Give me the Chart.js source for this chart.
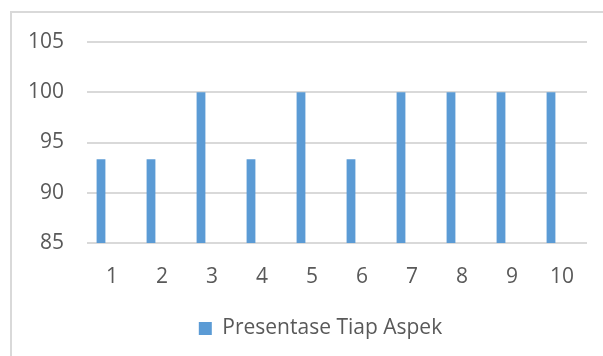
<!DOCTYPE html>
<html>
<head>
<meta charset="utf-8">
<script src="https://cdn.jsdelivr.net/npm/chart.js@4/dist/chart.umd.min.js"></script>
<style>
  html, body { margin: 0; padding: 0; background: #fff; }
  #wrap { position: relative; width: 603px; height: 356px; overflow: hidden; }
  #frame { position: absolute; left: 10px; top: 11px; width: 700px; height: 400px;
           border: 2px solid #d9d9d9; box-sizing: border-box; }
  #c { position: absolute; left: 0; top: 0; }
</style>
</head>
<body>
<div id="wrap">
  <div id="frame"></div>
  <canvas id="c" width="603" height="356"></canvas>
</div>
<script>
// Aspect numbers and their percentage scores
const categories = ['1', '2', '3', '4', '5', '6', '7', '8', '9', '10'];
const presentase = [93.33, 93.33, 100, 93.33, 100, 93.33, 100, 100, 100, 100];
// Second cluster slot (no values plotted, kept out of the legend)
const kosong = [null, null, null, null, null, null, null, null, null, null];
const yTicks = [85, 90, 95, 100, 105];

const FONT = "'Open Sans', 'Liberation Sans', sans-serif";
const TEXT = '#595959';
const BLUE = '#5b9bd5';

// The legend sits centred under the full frame, a little right of the plot centre
const legendShift = {
  id: 'legendShift',
  afterUpdate(chart) {
    const lg = chart.legend;
    if (!lg) return;
    lg.left += 27;
    lg.right += 27;
    if (lg.adjustHitBoxes) lg.adjustHitBoxes();
  }
};

new Chart(document.getElementById('c'), {
  type: 'bar',
  data: {
    labels: categories,
    datasets: [
      { label: 'Presentase Tiap Aspek', data: presentase, backgroundColor: BLUE,
        barPercentage: 0.4, categoryPercentage: 0.88 },
      { label: '', data: kosong, backgroundColor: 'rgba(0,0,0,0)',
        barPercentage: 0.4, categoryPercentage: 0.88 }
    ]
  },
  plugins: [legendShift],
  options: {
    responsive: false,
    animation: false,
    layout: { padding: { left: 0, right: 16, top: 42, bottom: 7 } },
    plugins: {
      tooltip: { enabled: false },
      legend: {
        position: 'bottom',
        labels: {
          filter: item => item.text !== '',
          boxWidth: 13, boxHeight: 13, padding: 10,
          color: TEXT, font: { family: FONT, size: 21 }
        }
      }
    },
    scales: {
      x: {
        grid: { display: false, drawTicks: false },
        border: { display: false },
        ticks: { color: TEXT, font: { family: FONT, size: 21 }, padding: 21 },
        afterFit: s => { s.height = 65; }
      },
      y: {
        min: yTicks[0], max: yTicks[yTicks.length - 1],
        afterBuildTicks: s => { s.ticks = yTicks.map(v => ({ value: v })); },
        grid: { color: '#d9d9d9', lineWidth: 2, drawTicks: false },
        border: { display: false },
        ticks: { color: TEXT, font: { family: FONT, size: 21 }, padding: 23 },
        afterFit: s => { s.width = 87; }
      }
    }
  }
});
</script>
</body>
</html>
